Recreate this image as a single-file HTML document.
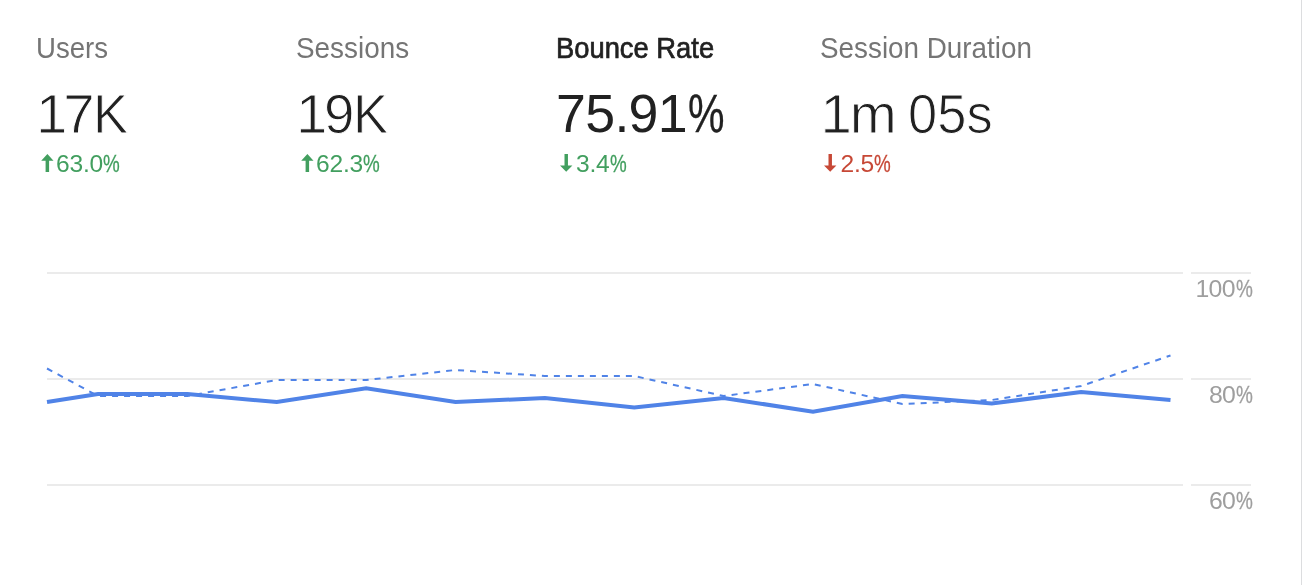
<!DOCTYPE html>
<html lang="en"><head><meta charset="utf-8"><title>Audience Overview</title>
<style>
html,body{margin:0;padding:0;background:#fff;}
body{width:1302px;height:585px;position:relative;overflow:hidden;font-family:"Liberation Sans",Arial,sans-serif;}
.edge{position:absolute;left:1301px;top:0;width:1px;height:585px;background:#dcdddf;}
.t{position:absolute;white-space:nowrap;line-height:1;transform-origin:0 0;margin:0;}
.t span{display:inline-block;transform-origin:0 0;letter-spacing:0;}
.lbl{top:34px;font-size:28.7px;color:#757575;}
.val{top:87px;font-size:53.7px;color:#212121;}
.lt{-webkit-text-stroke:1.0px #fff;}
.dl{top:152px;font-size:24.6px;letter-spacing:-0.2px;}
.ax{font-size:24.8px;letter-spacing:-0.7px;color:#9e9e9e;}
.up{color:#429f5f;} .dn{color:#c74836;}
.ar{position:absolute;overflow:visible;}
.chart{position:absolute;left:0;top:0;}
</style></head><body>
<div class="edge"></div>
<div class="t lbl" id="l1" style="left:35.98px;transform:scaleX(0.9619);">Users</div>
<div class="t lbl" id="l2" style="left:295.9px;transform:scaleX(0.972);">Sessions</div>
<div class="t lbl" id="l3" style="left:555.9px;transform:scaleX(0.937);color:#212121;font-size:29.2px;-webkit-text-stroke:0.7px #212121;">Bounce Rate</div>
<div class="t lbl" id="l4" style="left:820.22px;transform:scaleX(0.9702);">Session Duration</div>
<div class="t val lt" id="v1" style="left:36px;letter-spacing:-2.1px;font-size:56.4px;top:86px;">1<span style="margin-left:-2px">7</span><span style="transform:scaleX(0.933);margin-left:-2.1px">K</span></div>
<div class="t val lt" id="v2" style="left:296px;letter-spacing:-2.1px;font-size:56.4px;top:86px;">1<span style="margin-left:-1.0px;transform:scaleX(0.97)">9</span><span style="transform:scaleX(0.933);margin-left:-2.9px">K</span></div>
<div class="t val" id="v3" style="left:556px;letter-spacing:-0.67px;">75.91<span style="transform:scaleX(0.765);margin-left:0.7px;-webkit-text-stroke:0.3px currentColor">%</span></div>
<div class="t val lt" id="v4" style="left:820.5px;letter-spacing:-2.1px;font-size:56.4px;top:86px;">1m <span style="transform:scaleX(0.93);letter-spacing:0.1px">05s</span></div>
<div class="t dl up" id="d1" style="left:56px;">63.0<span style="transform:scaleX(0.765);margin-left:0px;-webkit-text-stroke:0.3px currentColor">%</span></div>
<div class="t dl up" id="d2" style="left:316px;">62.3<span style="transform:scaleX(0.765);margin-left:0px;-webkit-text-stroke:0.3px currentColor">%</span></div>
<div class="t dl up" id="d3" style="left:576px;">3.4<span style="transform:scaleX(0.765);margin-left:0px;-webkit-text-stroke:0.3px currentColor">%</span></div>
<div class="t dl dn" id="d4" style="left:840.5px;">2.5<span style="transform:scaleX(0.765);margin-left:0px;-webkit-text-stroke:0.3px currentColor">%</span></div>
<div class="t ax" id="a1" style="left:1195.5px;top:277px;">100<span style="transform:scaleX(0.765);margin-left:1.2px;-webkit-text-stroke:0.3px currentColor">%</span></div>
<div class="t ax" id="a2" style="left:1208.9px;top:383px;">80<span style="transform:scaleX(0.765);margin-left:0.8px;-webkit-text-stroke:0.3px currentColor">%</span></div>
<div class="t ax" id="a3" style="left:1208.9px;top:489px;">60<span style="transform:scaleX(0.765);margin-left:0.8px;-webkit-text-stroke:0.3px currentColor">%</span></div>
<svg class="ar" style="left:41px;top:153px" width="14" height="20" viewBox="0 0 14 20"><path fill="#429f5f" d="M6.4 1 L12.5 7.8 L8.1 7.8 L8.1 19 L4.6 19 L4.6 7.8 L0.2 7.8 Z"/></svg>
<svg class="ar" style="left:301px;top:153px" width="14" height="20" viewBox="0 0 14 20"><path fill="#429f5f" d="M6.4 1 L12.5 7.8 L8.1 7.8 L8.1 19 L4.6 19 L4.6 7.8 L0.2 7.8 Z"/></svg>
<svg class="ar" style="left:559.8px;top:153px" width="14" height="20" viewBox="0 0 14 20"><path fill="#429f5f" d="M6.2 18.7 L12.4 12.4 L7.95 12.4 L7.95 1 L4.5 1 L4.5 12.4 L0 12.4 Z"/></svg>
<svg class="ar" style="left:823.8px;top:153px" width="14" height="20" viewBox="0 0 14 20"><path fill="#c74836" d="M6.2 18.7 L12.4 12.4 L7.95 12.4 L7.95 1 L4.5 1 L4.5 12.4 L0 12.4 Z"/></svg>
<svg class="chart" width="1302" height="585" viewBox="0 0 1302 585">
<rect x="47" y="272" width="1136" height="2" fill="#ebebeb"/><rect x="1191" y="272" width="60" height="2" fill="#ebebeb"/>
<rect x="47" y="378" width="1136" height="2" fill="#ebebeb"/><rect x="1191" y="378" width="60" height="2" fill="#ebebeb"/>
<rect x="47" y="484" width="1136" height="2" fill="#ebebeb"/><rect x="1191" y="484" width="60" height="2" fill="#ebebeb"/>
<path d="M47 368.5 L98.00 396 L187.38 396 L276.75 380 L366.12 380 L455.50 370 L544.88 376 L634.25 376 L723.62 396 L813.00 384 L902.38 404 L991.75 400 L1081.12 386 L1170.50 355.5" fill="none" stroke="#5083e7" stroke-width="2" stroke-dasharray="6 6"/>
<path d="M47 402 L98.00 394 L187.38 394 L276.75 402 L366.12 388.3 L455.50 402 L544.88 398 L634.25 407.5 L723.62 398 L813.00 411.7 L902.38 396 L991.75 403.5 L1081.12 392 L1170.50 400" fill="none" stroke="#5083e7" stroke-width="4" stroke-linejoin="miter"/>
</svg>
</body></html>
